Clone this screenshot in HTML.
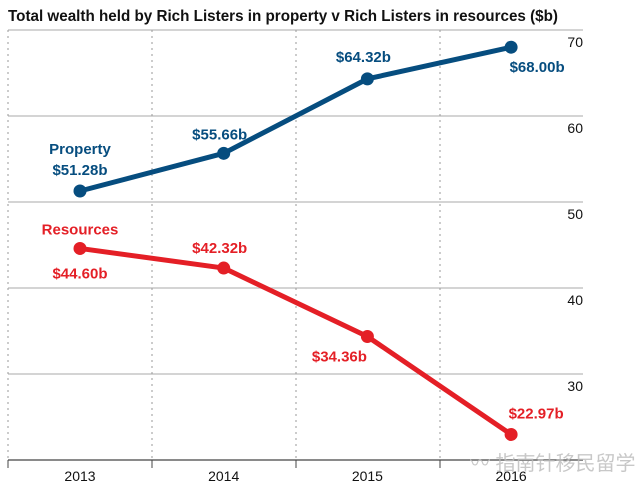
<!DOCTYPE html>
<html><head><meta charset="utf-8"><style>
body{margin:0;background:#fff}
svg{display:block;font-family:"Liberation Sans","Noto Sans CJK SC",sans-serif}
</style></head><body>
<svg width="640" height="496" viewBox="0 0 640 496">
<text x="8" y="21" font-size="16" font-weight="bold" fill="#111" textLength="550" lengthAdjust="spacingAndGlyphs">Total wealth held by Rich Listers in property v Rich Listers in resources ($b)</text>
<g id="grid"></g><g id="marks"></g>
<text x="470" y="470" font-size="20" fill="#bbb" opacity="0.8">〰 指南针移民留学</text>
</svg>
<script>
const years=["2013","2014","2015","2016"];
const property=[51.28,55.66,64.32,68.00];
const resources=[44.60,42.32,34.36,22.97];
const yTicks=[30,40,50,60,70];
const propLabels=["$51.28b","$55.66b","$64.32b","$68.00b"];
const resLabels=["$44.60b","$42.32b","$34.36b","$22.97b"];
const NS="http://www.w3.org/2000/svg";
const X=i=>80+i*143.7, Y=v=>374-(v-30)*8.6;
function mk(tag,attrs,parent,txt){const e=document.createElementNS(NS,tag);for(const k in attrs)e.setAttribute(k,attrs[k]);if(txt!=null)e.textContent=txt;parent.appendChild(e);return e;}
const g=document.getElementById('grid'), m=document.getElementById('marks');
yTicks.forEach(t=>{
 let l=mk('line',{x1:8,x2:583,y1:Y(t),y2:Y(t),stroke:'#bbb','stroke-width':1.2},g);
 
 
 let tx=mk('text',{x:583,y:Y(t)+17,'text-anchor':'end','font-size':14,fill:'#111'},g,t);
 
 
});
for(let i=0;i<4;i++){
 const xv=8+i*144;
 let l=mk('line',{x1:xv,x2:xv,y1:Y(70),y2:Y(20),stroke:'#999','stroke-dasharray':'2,4'},g);
 
 
 let tk=mk('line',{x1:xv,x2:xv,y1:Y(20),y2:Y(20)+8,stroke:'#444'},g);
 
 
}
let ax=mk('line',{x1:8,x2:583,y1:Y(20),y2:Y(20),stroke:'#444','stroke-width':1.2},g);


years.forEach((yr,i)=>{let t=mk('text',{x:X(i),y:Y(20)+21,'text-anchor':'middle','font-size':14,fill:'#111'},g,yr);
 
 });
function series(vals,col,name){
 let p=mk('polyline',{points:vals.map((v,i)=>X(i)+','+Y(v)).join(' '),fill:'none',stroke:col,'stroke-width':5,'stroke-linejoin':'round'},m);
 
 
 vals.forEach((v,i)=>{let c=mk('circle',{cx:X(i),cy:Y(v),r:6.5,fill:col},m);
  
  });
}
series(property,'#064d7f','property');
series(resources,'#e41f26','resources');
function lab(txt,x,y,col,name){let t=mk('text',{x:x,y:y,'text-anchor':'middle','font-size':15,'font-weight':'bold',fill:col},m,txt);
 
 }
const B='#064d7f',R='#e41f26';
lab('Property',X(0),Y(property[0])-37,B,'property-legend');
lab(propLabels[0],X(0),Y(property[0])-16,B,'property-value-2013');
lab(propLabels[1],X(1)-4,Y(property[1])-14,B,'property-value-2014');
lab(propLabels[2],X(2)-4,Y(property[2])-17,B,'property-value-2015');
lab(propLabels[3],X(3)+26,Y(property[3])+25,B,'property-value-2016');
lab('Resources',X(0),Y(resources[0])-14,R,'resources-legend');
lab(resLabels[0],X(0),Y(resources[0])+30,R,'resources-value-2013');
lab(resLabels[1],X(1)-4,Y(resources[1])-15,R,'resources-value-2014');
lab(resLabels[2],X(2)-28,Y(resources[2])+25,R,'resources-value-2015');
lab(resLabels[3],X(3)+25,Y(resources[3])-16,R,'resources-value-2016');
</script>
</body></html>
